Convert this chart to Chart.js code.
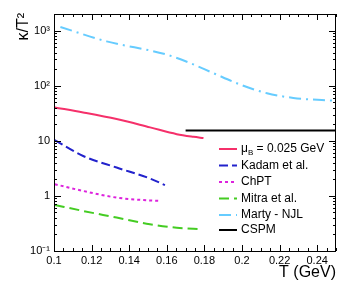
<!DOCTYPE html>
<html>
<head>
<meta charset="utf-8">
<script src="https://cdn.jsdelivr.net/npm/chart.js@4.4.1/dist/chart.umd.min.js"></script>
<style>
  html, body { margin: 0; padding: 0; background: #fff; }
  #wrap { width: 347px; height: 301px; position: relative; }
</style>
</head>
<body>
<div id="wrap"><canvas id="chart"></canvas></div>
<script>
// data
const muT = [0.1004, 0.1155, 0.1333, 0.1511, 0.1653, 0.1742, 0.1795];
const muK = [40.3, 32.7, 24.8, 17.5, 13.2, 11.8, 11.2];

const kadamT = [0.1004, 0.1155, 0.1333, 0.151, 0.159];
const kadamK = [10.3, 5.3, 3.27, 2.07, 1.57];

const chptT = [0.1004, 0.1155, 0.1333, 0.1475, 0.1564];
const chptK = [1.63, 1.23, 0.93, 0.84, 0.81];

const mitraT = [0.1004, 0.1155, 0.1333, 0.151, 0.1653, 0.1786];
const mitraK = [0.686, 0.533, 0.404, 0.305, 0.265, 0.248];

const martyT = [0.1034, 0.128, 0.160, 0.1724, 0.1846, 0.199, 0.2133, 0.2273, 0.25];
const martyK = [1160, 638, 366, 257, 170, 105, 73, 60, 53];

const cspmT = [0.17, 0.25];
const cspmK = [15.3, 15.3];

const xTicks = [0.1, 0.12, 0.14, 0.16, 0.18, 0.2, 0.22, 0.24];
const xTickLabels = ['0.1', '0.12', '0.14', '0.16', '0.18', '0.2', '0.22', '0.24'];
const yTicks = [0.1, 1, 10, 100, 1000];
const yTickLabels = ['10\u207B\u00B9', '1', '10', '10\u00B2', '10\u00B3'];

const pts = (xs, ys) => xs.map((x, i) => ({ x: x, y: ys[i] }));

function series(label, xs, ys, color, dash) {
    return {
        label: label,
        data: pts(xs, ys),
        borderColor: color,
        backgroundColor: color,
        borderDash: dash,
        borderWidth: 2,
        pointRadius: 0,
        showLine: true,
        cubicInterpolationMode: 'monotone',
        fill: false
    };
}

// frame, inside ticks, legend and axis titles (ROOT look)
const frameStuff = {
    id: 'frameStuff',
    afterDatasetsDraw(chart) {
        const ctx = chart.ctx;
        const a = chart.chartArea;
        const xs = chart.scales.x, ys = chart.scales.y;
        ctx.save();
        ctx.strokeStyle = '#000';
        ctx.lineWidth = 1;
        ctx.strokeRect(a.left + 0.5, a.top + 0.5, a.right - a.left - 1, a.bottom - a.top);

        ctx.beginPath();
        // x ticks every 0.005, major every 0.02
        for (let i = 0; i <= 30; i++) {
            const v = 0.1 + i * 0.005;
            const px = Math.round(xs.getPixelForValue(v)) + 0.5;
            const len = (i % 4 === 0) ? 6 : 3;
            ctx.moveTo(px, a.bottom); ctx.lineTo(px, a.bottom - len);
            ctx.moveTo(px, a.top); ctx.lineTo(px, a.top + len);
        }
        // y log ticks
        for (let d = -1; d <= 3; d++) {
            for (let m = 1; m <= 9; m++) {
                const v = m * Math.pow(10, d);
                if (v > ys.max) continue;
                const py = Math.round(ys.getPixelForValue(v)) + 0.5;
                const len = (m === 1) ? 7 : 3;
                ctx.moveTo(a.left, py); ctx.lineTo(a.left + len, py);
                ctx.moveTo(a.right, py); ctx.lineTo(a.right - len, py);
            }
        }
        ctx.stroke();

        // legend
        const font = '12px "Liberation Sans", Arial, sans-serif';
        const rowY = [149, 165.5, 182, 198.5, 215, 230];
        chart.data.datasets.forEach((ds, i) => {
            const y = rowY[i];
            ctx.beginPath();
            ctx.strokeStyle = ds.borderColor;
            ctx.lineWidth = 2;
            ctx.setLineDash(ds.borderDash || []);
            ctx.moveTo(219, y); ctx.lineTo(237, y);
            ctx.stroke();
            ctx.setLineDash([]);
            ctx.fillStyle = '#000';
            ctx.textBaseline = 'middle';
            ctx.textAlign = 'left';
            ctx.font = font;
            const parts = ds.label.split('_');
            if (parts.length > 1) {
                ctx.fillText(parts[0], 241, y);
                let x = 241 + ctx.measureText(parts[0]).width;
                ctx.font = '8px "Liberation Sans", Arial, sans-serif';
                const sub = parts[1].charAt(0);
                ctx.fillText(sub, x, y + 4);
                x += ctx.measureText(sub).width;
                ctx.font = font;
                ctx.fillText(parts[1].slice(1), x, y);
            } else {
                ctx.fillText(ds.label, 241, y);
            }
        });

        // axis titles
        ctx.fillStyle = '#000';
        ctx.font = '16px "Liberation Sans", Arial, sans-serif';
        ctx.textAlign = 'right';
        ctx.textBaseline = 'middle';
        ctx.fillText('T (GeV)', a.right, 273);
        ctx.translate(24, a.top - 1);
        ctx.rotate(-Math.PI / 2);
        ctx.fillText('\u03BA/T\u00B2', 0, 0);
        ctx.restore();
    }
};

new Chart(document.getElementById('chart'), {
    type: 'scatter',
    data: {
        datasets: [
            series('\u03BC_B = 0.025 GeV', muT, muK, '#f5306a', []),
            series('Kadam et al.', kadamT, kadamK, '#2222cc', [9, 4]),
            series('ChPT', chptT, chptK, '#dd22dd', [3, 3]),
            series('Mitra et al.', mitraT, mitraK, '#44cc22', [10, 5]),
            series('Marty - NJL', martyT, martyK, '#66ccff', [12, 5, 2, 5]),
            series('CSPM', cspmT, cspmK, '#000000', [])
        ]
    },
    options: {
        responsive: true,
        maintainAspectRatio: false,
        animation: false,
        layout: { padding: { left: 0, top: 14, right: 11, bottom: 0 } },
        plugins: { legend: { display: false }, tooltip: { enabled: false } },
        scales: {
            x: {
                type: 'linear',
                min: 0.1,
                max: 0.25,
                grid: { display: false, drawTicks: false },
                border: { display: false },
                afterBuildTicks: s => { s.ticks = xTicks.map(v => ({ value: v })); },
                afterFit: s => { s.height = 50; },
                ticks: {
                    padding: 3,
                    maxRotation: 0,
                    autoSkip: false,
                    color: '#000',
                    font: { family: '"Liberation Sans", Arial, sans-serif', size: 11 },
                    callback: v => xTickLabels[xTicks.findIndex(t => Math.abs(t - v) < 1e-9)]
                }
            },
            y: {
                type: 'logarithmic',
                min: 0.1,
                max: 2000,
                grid: { display: false, drawTicks: false },
                border: { display: false },
                afterBuildTicks: s => { s.ticks = yTicks.map(v => ({ value: v })); },
                afterFit: s => { s.width = 54; },
                ticks: {
                    padding: 4,
                    autoSkip: false,
                    color: '#000',
                    font: { family: '"Liberation Sans", Arial, sans-serif', size: 11 },
                    callback: v => yTickLabels[yTicks.findIndex(t => Math.abs(t - v) < 1e-9 * t)]
                }
            }
        }
    },
    plugins: [frameStuff]
});
</script>
</body>
</html>
